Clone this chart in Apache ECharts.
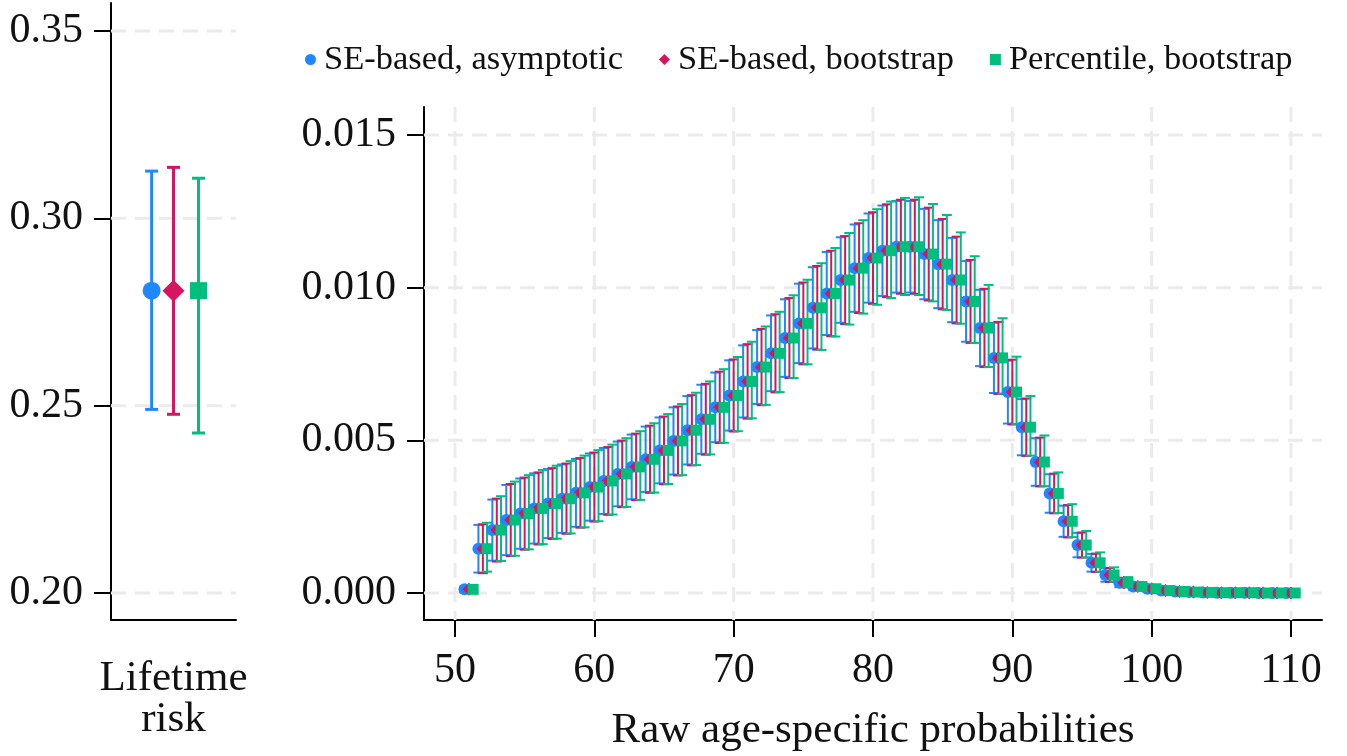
<!DOCTYPE html>
<html><head><meta charset="utf-8">
<script src="https://cdn.jsdelivr.net/npm/echarts@6/dist/echarts.min.js"></script>
<style>html,body{margin:0;padding:0;background:#fff}#c{width:1347px;height:756px}</style>
</head><body><div id="c"></div>
<script>
// ---------- DATA ----------
const methods = ['SE-based, asymptotic', 'SE-based, bootstrap', 'Percentile, bootstrap'];

// Lifetime risk panel
const lifetimeEstimate = [0.2807, 0.2807, 0.2807];
const lifetimeLower = [0.2490, 0.2477, 0.2427];
const lifetimeUpper = [0.3126, 0.3136, 0.3107];

// Age-specific panel
const ages = [51,52,53,54,55,56,57,58,59,60,61,62,63,64,65,66,67,68,69,70,71,72,73,74,75,76,77,78,79,80,
  81,82,83,84,85,86,87,88,89,90,91,92,93,94,95,96,97,98,99,100,101,102,103,104,105,106,107,108,109,110];
const estimate = [0.00012,0.00145,0.00206,0.00239,0.00260,0.00277,0.00293,0.00309,0.00328,0.00347,
  0.00367,0.00390,0.00413,0.00438,0.00467,0.00498,0.00533,0.00569,0.00608,0.00647,
  0.00693,0.00740,0.00785,0.00835,0.00883,0.00934,0.00981,0.01025,0.01064,0.01097,
  0.01121,0.01134,0.01134,0.01110,0.01077,0.01025,0.00955,0.00868,0.00770,0.00658,
  0.00543,0.00429,0.00326,0.00235,0.00157,0.00099,0.00059,0.00034,0.00021,0.00014,
  0.00008,0.00005,0.00003,0.00002,0.00001,0.00001,0.00001,0.00000,0.00000,0.00000];
const asymLower = [0.00002,0.00067,0.00106,0.00124,0.00145,0.00162,0.00180,0.00197,0.00217,0.00237,
  0.00259,0.00284,0.00307,0.00331,0.00359,0.00388,0.00421,0.00456,0.00494,0.00532,
  0.00575,0.00619,0.00661,0.00708,0.00753,0.00801,0.00845,0.00885,0.00921,0.00951,
  0.00973,0.00984,0.00984,0.00962,0.00933,0.00887,0.00823,0.00743,0.00655,0.00555,
  0.00451,0.00351,0.00263,0.00184,0.00117,0.00070,0.00037,0.00019,0.00010,0.00006,
  0.00003,0.00002,0.00001,0.00001,0,0,0,0,0,0];
const asymUpper = [0.00022,0.00223,0.00306,0.00354,0.00375,0.00392,0.00406,0.00421,0.00439,0.00457,
  0.00475,0.00496,0.00519,0.00545,0.00575,0.00608,0.00645,0.00682,0.00722,0.00762,
  0.00811,0.00861,0.00909,0.00962,0.01013,0.01067,0.01117,0.01165,0.01207,0.01243,
  0.01269,0.01284,0.01284,0.01258,0.01221,0.01163,0.01087,0.00993,0.00885,0.00761,
  0.00635,0.00507,0.00389,0.00286,0.00197,0.00128,0.00081,0.00049,0.00032,0.00022,
  0.00013,0.00008,0.00005,0.00003,0.00002,0.00002,0.00002,0.00001,0.00001,0.00001];
const bootLower = [0.00001,0.00065,0.00103,0.00121,0.00142,0.00159,0.00177,0.00194,0.00214,0.00234,
  0.00256,0.00281,0.00304,0.00328,0.00356,0.00385,0.00418,0.00453,0.00491,0.00529,
  0.00571,0.00615,0.00657,0.00704,0.00749,0.00797,0.00841,0.00881,0.00917,0.00947,
  0.00969,0.00980,0.00980,0.00958,0.00929,0.00883,0.00819,0.00740,0.00652,0.00552,
  0.00449,0.00349,0.00261,0.00182,0.00116,0.00069,0.00036,0.00019,0.00010,0.00006,
  0.00003,0.00002,0.00001,0.00001,0,0,0,0,0,0];
const bootUpper = [0.00023,0.00225,0.00309,0.00357,0.00378,0.00395,0.00409,0.00424,0.00442,0.00460,
  0.00478,0.00499,0.00522,0.00548,0.00578,0.00611,0.00648,0.00685,0.00725,0.00765,
  0.00815,0.00865,0.00913,0.00966,0.01017,0.01071,0.01121,0.01169,0.01211,0.01247,
  0.01273,0.01288,0.01288,0.01262,0.01225,0.01167,0.01091,0.00996,0.00888,0.00764,
  0.00637,0.00509,0.00391,0.00288,0.00198,0.00129,0.00082,0.00050,0.00033,0.00023,
  0.00014,0.00008,0.00005,0.00003,0.00002,0.00002,0.00002,0.00001,0.00001,0.00001];
const pctLower = [0.00002,0.00070,0.00105,0.00122,0.00143,0.00160,0.00178,0.00195,0.00215,0.00235,
  0.00257,0.00282,0.00305,0.00329,0.00357,0.00386,0.00419,0.00454,0.00492,0.00530,
  0.00572,0.00616,0.00658,0.00704,0.00749,0.00796,0.00840,0.00879,0.00915,0.00944,
  0.00966,0.00976,0.00976,0.00955,0.00927,0.00882,0.00819,0.00740,0.00653,0.00554,
  0.00450,0.00350,0.00262,0.00183,0.00117,0.00070,0.00037,0.00019,0.00010,0.00006,
  0.00003,0.00002,0.00001,0.00001,0,0,0,0,0,0];
const pctUpper = [0.00024,0.00230,0.00317,0.00365,0.00386,0.00403,0.00417,0.00432,0.00450,0.00468,
  0.00486,0.00507,0.00530,0.00556,0.00586,0.00619,0.00656,0.00693,0.00733,0.00773,
  0.00823,0.00873,0.00921,0.00975,0.01026,0.01080,0.01130,0.01179,0.01221,0.01257,
  0.01282,0.01294,0.01296,0.01274,0.01238,0.01181,0.01103,0.01009,0.00900,0.00774,
  0.00645,0.00516,0.00395,0.00291,0.00203,0.00133,0.00084,0.00052,0.00035,0.00024,
  0.00015,0.00009,0.00006,0.00003,0.00002,0.00002,0.00002,0.00001,0.00001,0.00001];

// Tick labels
const ageTicks = [50, 60, 70, 80, 90, 100, 110];
const probTicks = [0, 0.005, 0.010, 0.015];
const lifetimeTicks = [0.20, 0.25, 0.30, 0.35];

// ---------- STYLE ----------
const FONT = 'Liberation Serif';
const colors = ['#1f87ff', '#d6145f', '#00bf7d'];
const symbols = ['circle', 'diamond', 'rect'];
const ageOffsets = [-0.32, 0, 0.3];      // dodge (years)
const lifeOffsets = [-0.35, 0, 0.4];     // dodge (axis units)
const smallSizes = [12, 13, 11];
const bigSizes = [18, 22, 17];
const GRIDCOL = '#ebebeb';

const chart = echarts.init(document.getElementById('c'), null, {renderer: 'canvas'});

function errRender(color, lw, cap) {
  return function (params, api) {
    const x = api.value(0), lo = api.value(1), hi = api.value(2);
    const a = api.coord([x, lo]), b = api.coord([x, hi]);
    const st = {stroke: color, lineWidth: lw};
    return {type: 'group', children: [
      {type: 'line', shape: {x1: a[0], y1: a[1], x2: b[0], y2: b[1]}, style: st},
      {type: 'line', shape: {x1: a[0] - cap / 2, y1: a[1], x2: a[0] + cap / 2, y2: a[1]}, style: st},
      {type: 'line', shape: {x1: b[0] - cap / 2, y1: b[1], x2: b[0] + cap / 2, y2: b[1]}, style: st}
    ]};
  };
}
function hGridRender(params, api) {
  const cs = params.coordSys;
  const y = api.coord([api.value(0), api.value(1)])[1];
  return {type: 'line', silent: true, shape: {x1: cs.x, y1: y, x2: cs.x + cs.width, y2: y},
    style: {stroke: GRIDCOL, lineWidth: 3, lineDash: [15, 9]}};
}
function vGridRender(params, api) {
  const cs = params.coordSys;
  const x = api.coord([api.value(0), api.value(1)])[0];
  return {type: 'line', silent: true, shape: {x1: x, y1: cs.y, x2: x, y2: cs.y + cs.height},
    style: {stroke: GRIDCOL, lineWidth: 3, lineDash: [15, 9]}};
}

const lowers = [asymLower, bootLower, pctLower];
const uppers = [asymUpper, bootUpper, pctUpper];

const series = [
  {type: 'custom', name: 'g0', xAxisIndex: 0, yAxisIndex: 0, silent: true, z: 1,
   data: lifetimeTicks.map(v => [0, v]), encode: {x: 0, y: 1}, renderItem: hGridRender},
  {type: 'custom', name: 'g1', xAxisIndex: 1, yAxisIndex: 1, silent: true, z: 1,
   data: probTicks.map(v => [80, v]), encode: {x: 0, y: 1}, renderItem: hGridRender},
  {type: 'custom', name: 'g2', xAxisIndex: 1, yAxisIndex: 1, silent: true, z: 1,
   data: ageTicks.map(v => [v, 0.005]), encode: {x: 0, y: 1}, renderItem: vGridRender}
];

methods.forEach((m, k) => {
  // lifetime panel
  series.push({type: 'custom', name: m + ' CI life', xAxisIndex: 0, yAxisIndex: 0, z: 2, silent: true,
    data: [[lifeOffsets[k], lifetimeLower[k], lifetimeUpper[k]]], encode: {x: 0, y: [1, 2]},
    renderItem: errRender(colors[k], 3, 13)});
  series.push({type: 'scatter', name: m, xAxisIndex: 0, yAxisIndex: 0, z: 2, silent: true,
    symbol: symbols[k], symbolSize: bigSizes[k], itemStyle: {color: colors[k], opacity: 1},
    data: [[lifeOffsets[k], lifetimeEstimate[k]]]});
  // age panel
  series.push({type: 'custom', name: m + ' CI age', xAxisIndex: 1, yAxisIndex: 1, z: 2, silent: true,
    data: ages.map((a, i) => [a + ageOffsets[k], lowers[k][i], uppers[k][i]]), encode: {x: 0, y: [1, 2]},
    renderItem: errRender(colors[k], 2, 10)});
  series.push({type: 'scatter', name: m, xAxisIndex: 1, yAxisIndex: 1, z: 2, silent: true,
    symbol: symbols[k], symbolSize: smallSizes[k], itemStyle: {color: colors[k], opacity: 1},
    data: ages.map((a, i) => [a + ageOffsets[k], estimate[i]])});
});

const axisLine = {show: true, onZero: false, lineStyle: {color: '#000', width: 2}};
const tickStyle = {color: '#000', width: 2};
const lab = {fontFamily: FONT, fontSize: 42, color: '#111'};
const nameStyle = {fontFamily: FONT, fontSize: 43, lineHeight: 41, color: '#111'};

chart.setOption({
  animation: false,
  backgroundColor: '#fff',
  textStyle: {fontFamily: FONT},
  legend: {
    left: 300, top: 37, itemWidth: 11, itemHeight: 11, itemGap: 36,
    textStyle: {fontFamily: FONT, fontSize: 34.5, color: '#111', padding: [0, 0, 0, 3]},
    data: methods.map((m, k) => ({name: m, icon: symbols[k], itemStyle: {color: colors[k]}}))
  },
  grid: [
    {left: 111, top: 3, width: 125, height: 617, containLabel: false, outerBoundsMode: 'none'},
    {left: 424, top: 107, width: 898, height: 513, containLabel: false, outerBoundsMode: 'none'}
  ],
  xAxis: [
    {type: 'value', gridIndex: 0, min: -1, max: 1, axisLine: axisLine,
     axisTick: {show: false}, axisLabel: {show: false}, splitLine: {show: false},
     name: 'Lifetime\nrisk', nameLocation: 'middle', nameGap: 38, nameTextStyle: nameStyle},
    {type: 'value', gridIndex: 1, min: 47.775, max: 112.225, axisLine: axisLine,
     axisTick: {show: true, length: 17, lineStyle: tickStyle, customValues: ageTicks},
     axisLabel: Object.assign({margin: 30, customValues: ageTicks, formatter: v => String(v)}, lab),
     splitLine: {show: false},
     name: 'Raw age-specific probabilities', nameLocation: 'middle', nameGap: 90, nameTextStyle: nameStyle}
  ],
  yAxis: [
    {type: 'value', gridIndex: 0, min: 0.19279, max: 0.35747, axisLine: axisLine,
     axisTick: {show: true, length: 17, lineStyle: tickStyle, customValues: lifetimeTicks},
     axisLabel: Object.assign({margin: 28, customValues: lifetimeTicks, formatter: v => v.toFixed(2)}, lab),
     splitLine: {show: false}},
    {type: 'value', gridIndex: 1, min: -0.000884, max: 0.015917, axisLine: axisLine,
     axisTick: {show: true, length: 17, lineStyle: tickStyle, customValues: probTicks},
     axisLabel: Object.assign({margin: 28, customValues: probTicks, formatter: v => v.toFixed(3)}, lab),
     splitLine: {show: false}}
  ],
  series: series
});
</script></body></html>
